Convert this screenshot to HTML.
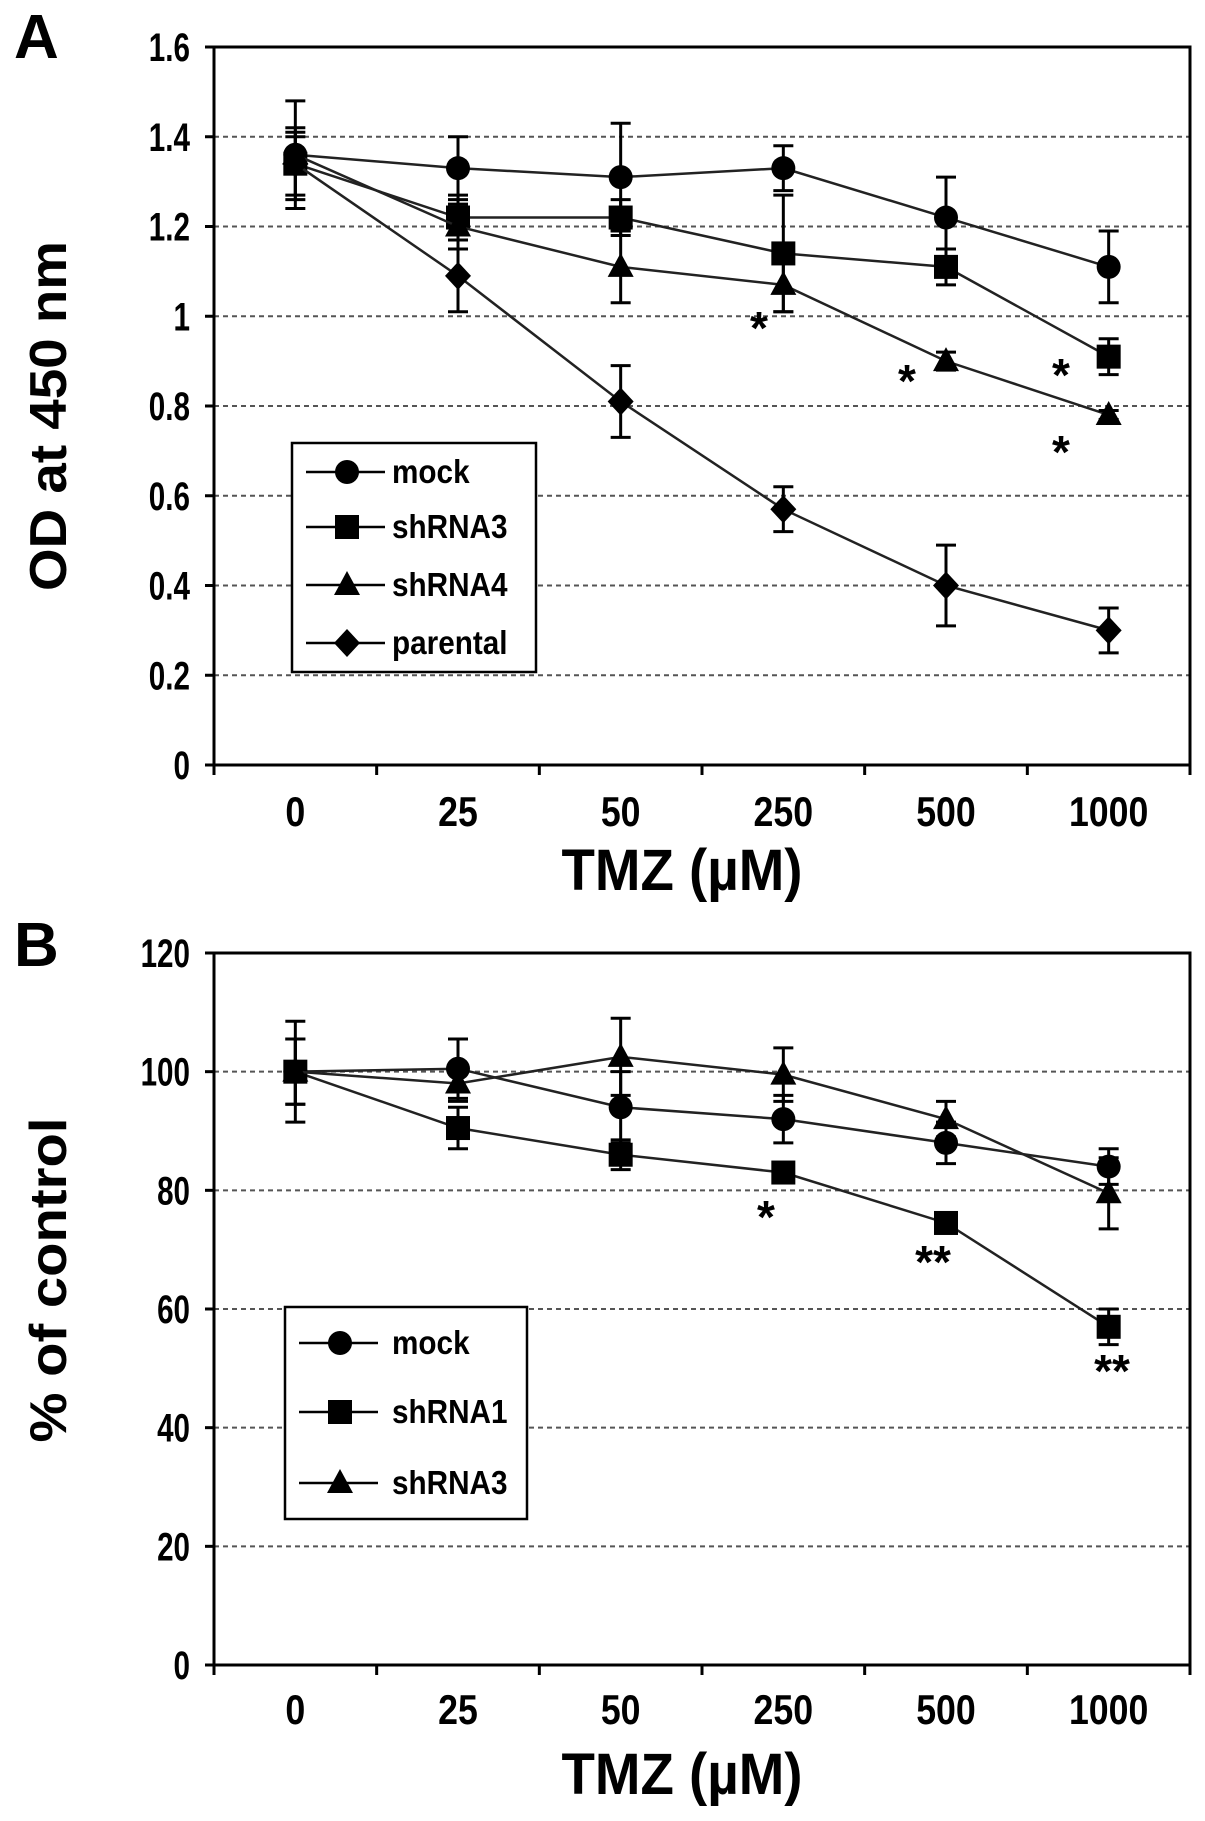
<!DOCTYPE html>
<html><head><meta charset="utf-8">
<style>
html,body{margin:0;padding:0;background:#fff;}
svg{display:block;}
text{font-family:"Liberation Sans Narrow","Liberation Sans",sans-serif;font-weight:bold;fill:#000;}
</style></head>
<body>
<svg id="fig" width="1205" height="1821" viewBox="0 0 1205 1821" xmlns="http://www.w3.org/2000/svg"></svg>
<script>
// ---- data ----
const categories = ["0","25","50","250","500","1000"];
// Panel A
const aMock = [1.36,1.33,1.31,1.33,1.22,1.11];
const aMockErr = [0.12,0.07,0.12,0.05,0.09,0.08];
const aSh3 = [1.34,1.22,1.22,1.14,1.11,0.91];
const aSh3Err = [0.07,0.05,0.04,0.13,0.04,0.04];
const aSh4 = [1.36,1.20,1.11,1.07,0.90,0.78];
const aSh4Err = [0.04,0.05,0.08,0.06,0.02,0.01];
const aPar = [1.34,1.09,0.81,0.57,0.40,0.30];
const aParErr = [0.08,0.08,0.08,0.05,0.09,0.05];
const aTicks = ["0","0.2","0.4","0.6","0.8","1","1.2","1.4","1.6"];
const aTickVals = [0,0.2,0.4,0.6,0.8,1,1.2,1.4,1.6];
// Panel B
const bMock = [100,100.5,94,92,88,84];
const bMockErr = [5.5,5,6,4,3.5,3];
const bSh1 = [100,90.5,86,83,74.5,57];
const bSh1Err = [8.5,3.5,2.5,1,1,3];
const bSh3 = [100,98,102.5,99.5,92,79.5];
const bSh3Err = [5.5,3,6.5,4.5,3,6];
const bTicks = ["0","20","40","60","80","100","120"];
const bTickVals = [0,20,40,60,80,100,120];

const NS="http://www.w3.org/2000/svg";
const svg=document.getElementById('fig');
function mk(tag,attrs,parent){const e=document.createElementNS(NS,tag);for(const k in attrs)e.setAttribute(k,attrs[k]);(parent||svg).appendChild(e);return e;}
function narrow(t,f){
  const w=t.getComputedTextLength();
  if(w>0){t.setAttribute('textLength',(w*f).toFixed(1));t.setAttribute('lengthAdjust','spacingAndGlyphs');}
}

function marker(g,type,cx,cy){
  let m;
  if(type==='circle') m=mk('circle',{cx:cx,cy:cy,r:12,fill:'#000'},g);
  else if(type==='square') m=mk('rect',{x:cx-12,y:cy-12,width:24,height:24,fill:'#000'},g);
  else if(type==='triangle') m=mk('polygon',{points:`${cx},${cy-14} ${cx+13},${cy+10} ${cx-13},${cy+10}`,fill:'#000'},g);
  else m=mk('polygon',{points:`${cx},${cy-14} ${cx+13},${cy} ${cx},${cy+14} ${cx-13},${cy}`,fill:'#000'},g);
  return m;
}

function panel(cfg){
  const L=214,R=1190,T=cfg.top,B=cfg.bottom;
  const band=(R-L)/categories.length;
  const xs=i=>L+band*(i+0.5);
  const ys=v=>B-(v-cfg.min)/(cfg.max-cfg.min)*(B-T);
  const g=mk('g',{});
  
  
  cfg.tickVals.forEach((v,i)=>{
    if(i>0 && i<cfg.tickVals.length-1){
      const l=mk('line',{x1:L,x2:R,y1:ys(v),y2:ys(v),stroke:'#555','stroke-width':2,'stroke-dasharray':'5,4'},g);
      
      
    }
  });
  const f=mk('rect',{x:L,y:T,width:R-L,height:B-T,fill:'none',stroke:'#000','stroke-width':3},g);
  
  
  cfg.tickVals.forEach((v,i)=>{
    mk('line',{x1:L-9,x2:L,y1:ys(v),y2:ys(v),stroke:'#000','stroke-width':3},g);
    const t=mk('text',{x:190,y:ys(v)+14,'text-anchor':'end','font-size':40},g);
    t.textContent=cfg.ticks[i];
    
    
    narrow(t,0.74);
  });
  for(let i=0;i<=categories.length;i++){
    mk('line',{x1:L+band*i,x2:L+band*i,y1:B,y2:B+10,stroke:'#000','stroke-width':3},g);
  }
  categories.forEach((c,i)=>{
    const t=mk('text',{x:xs(i),y:cfg.xLabelY,'text-anchor':'middle','font-size':42},g);
    t.textContent=c;
    
    
    narrow(t,0.85);
  });
  cfg.series.forEach(s=>{
    const sg=mk('g',{},g);
    
    
    const pts=s.vals.map((v,i)=>xs(i)+','+ys(v)).join(' ');
    mk('polyline',{points:pts,fill:'none',stroke:'#222','stroke-width':2.5},sg);
    s.vals.forEach((v,i)=>{
      const x=xs(i),y1=ys(v+s.err[i]),y2=ys(v-s.err[i]);
      mk('line',{x1:x,x2:x,y1:y1,y2:y2,stroke:'#000','stroke-width':3},sg);
      mk('line',{x1:x-10,x2:x+10,y1:y1,y2:y1,stroke:'#000','stroke-width':3},sg);
      mk('line',{x1:x-10,x2:x+10,y1:y2,y2:y2,stroke:'#000','stroke-width':3},sg);
      const m=marker(sg,s.marker,x,ys(v));
      
      
    });
  });
  const lg=mk('g',{},g);
  
  
  mk('rect',{x:cfg.leg.x,y:cfg.leg.y,width:cfg.leg.w,height:cfg.leg.h,fill:'#fff',stroke:'#000','stroke-width':2.5},lg);
  cfg.series.forEach((s,i)=>{
    const y=cfg.leg.rows[i];
    const eg=mk('g',{},lg);
    
    
    mk('line',{x1:cfg.leg.x+14,x2:cfg.leg.x+93,y1:y,y2:y,stroke:'#000','stroke-width':2.5},eg);
    marker(eg,s.marker,cfg.leg.x+55,y);
    const t=mk('text',{x:392,y:y+11,'font-size':33},eg);
    t.textContent=s.name;
    narrow(t,0.9);
  });
  cfg.stars.forEach(st=>{
    const t=mk('text',{x:st[0],y:st[1]+20,'text-anchor':'middle','font-size':46,'font-family':'Liberation Sans',fill:'#222'},g);
    t.textContent=st[2];
    
    
  });
  const yt=mk('text',{x:0,y:0,'text-anchor':'middle','font-size':52,'font-family':'Liberation Sans',transform:`translate(${cfg.yTitle[0]+18},${cfg.yTitle[1]}) rotate(-90)`,textLength:cfg.yTitle[2],lengthAdjust:'spacingAndGlyphs'},g);
  yt.textContent=cfg.yTitleText;
  
  
  const xt=mk('text',{x:682,y:cfg.xTitleY,'text-anchor':'middle','font-size':58,textLength:241,lengthAdjust:'spacingAndGlyphs'},g);
  xt.textContent='TMZ (µM)';
  
  
  const pl=mk('text',{x:14,y:cfg.letterY,'font-size':62,'font-family':'Liberation Sans'},g);
  pl.textContent=cfg.letter;
  
  
}

panel({name:'panel-a',letter:'A',letterY:58,top:47,bottom:765,min:0,max:1.6,
  ticks:aTicks,tickVals:aTickVals,xLabelY:826,xTitleY:890,
  yTitleText:'OD at 450 nm',yTitle:[48,416,350],
  series:[
    {name:'mock',vals:aMock,err:aMockErr,marker:'circle'},
    {name:'shRNA3',vals:aSh3,err:aSh3Err,marker:'square'},
    {name:'shRNA4',vals:aSh4,err:aSh4Err,marker:'triangle'},
    {name:'parental',vals:aPar,err:aParErr,marker:'diamond'}],
  leg:{x:292,y:443,w:244,h:229,rows:[472,527,585,643]},
  stars:[[759,324,'*'],[907,377,'*'],[1061,371,'*'],[1061,448,'*']]});

panel({name:'panel-b',letter:'B',letterY:966,top:953,bottom:1665,min:0,max:120,
  ticks:bTicks,tickVals:bTickVals,xLabelY:1724,xTitleY:1794,
  yTitleText:'% of control',yTitle:[48,1280,325],
  series:[
    {name:'mock',vals:bMock,err:bMockErr,marker:'circle'},
    {name:'shRNA1',vals:bSh1,err:bSh1Err,marker:'square'},
    {name:'shRNA3',vals:bSh3,err:bSh3Err,marker:'triangle'}],
  leg:{x:285,y:1307,w:242,h:212,rows:[1343,1412,1483]},
  stars:[[766,1213,'*'],[933,1258,'**'],[1112,1367,'**']]});
</script>
</body></html>
